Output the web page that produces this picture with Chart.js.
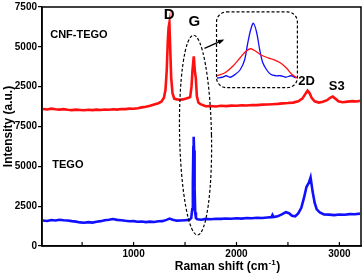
<!DOCTYPE html>
<html>
<head>
<meta charset="utf-8">
<script src="https://cdn.jsdelivr.net/npm/chart.js@4.4.1/dist/chart.umd.min.js"></script>
<style>
  body { margin: 0; background: #fff; }
  #wrap { position: relative; width: 363px; height: 274px; }
  #inset { position: absolute; left: 217px; top: 12px; }
</style>
</head>
<body>
<div id="wrap">
  <canvas id="chartRaman" width="363" height="274"></canvas>
  <canvas id="inset" width="80" height="75"></canvas>
</div>
<script>
// TEGO spectrum (lower trace)
const tegoX = [120, 160, 200, 240, 280, 320, 360, 400, 440, 480, 520, 560, 600, 640, 680, 720, 760, 800, 840, 880,
  920, 960, 1000, 1040, 1080, 1120, 1160, 1200, 1240, 1280, 1320, 1350, 1380, 1420, 1460, 1500, 1540, 1560, 1570, 1576,
  1581, 1584, 1588, 1593, 1599, 1606, 1620, 1660, 1700, 1750, 1800, 1850, 1900, 1950, 2000, 2050, 2100, 2150, 2200, 2250,
  2300, 2340, 2350, 2360, 2400, 2440, 2480, 2510, 2540, 2570, 2600, 2630, 2655, 2680, 2705, 2720, 2740, 2760, 2780, 2810,
  2850, 2900, 2950, 3000, 3050, 3100, 3150, 3200];
const tegoY = [1600, 1570, 1630, 1600, 1650, 1620, 1600, 1560, 1530, 1480, 1460, 1500, 1470, 1520, 1560, 1620, 1650, 1690, 1640, 1620,
  1580, 1550, 1560, 1520, 1540, 1500, 1530, 1510, 1550, 1560, 1640, 1720, 1650, 1590, 1600, 1620, 1640, 1750, 2300, 4000,
  6200, 6850, 6000, 3600, 2100, 1750, 1680, 1650, 1700, 1680, 1710, 1700, 1730, 1710, 1740, 1720, 1760, 1740, 1770, 1760,
  1790, 1810, 1950, 1820, 1860, 1980, 2120, 2060, 1900, 1860, 2050, 2400, 3000, 3700, 4000, 4300, 3400, 2700, 2300, 2100,
  1980, 1970, 1940, 1980, 1960, 2000, 1990, 2030];

// CNF-TEGO spectrum (upper trace, stacked by +7500)
const cnfX = [120, 160, 200, 240, 280, 320, 360, 400, 440, 480, 520, 560, 600, 640, 680, 720, 760, 800, 840, 880,
  920, 960, 1000, 1040, 1080, 1120, 1160, 1200, 1240, 1270, 1295, 1310, 1322, 1332, 1340, 1348, 1355, 1365, 1378, 1395,
  1420, 1450, 1480, 1510, 1535, 1550, 1563, 1572, 1585, 1595, 1605, 1615, 1630, 1650, 1700, 1750, 1800, 1850, 1900, 1950,
  2000, 2050, 2100, 2150, 2200, 2250, 2300, 2350, 2400, 2450, 2500, 2550, 2600, 2640, 2670, 2690, 2710, 2730, 2760, 2800,
  2840, 2880, 2910, 2935, 2960, 2990, 3030, 3080, 3130, 3170, 3200];
const cnfY = [8600, 8570, 8620, 8580, 8560, 8590, 8550, 8530, 8560, 8540, 8520, 8550, 8530, 8560, 8540, 8570, 8550, 8580, 8560, 8600,
  8590, 8620, 8610, 8650, 8700, 8740, 8800, 8880, 8960, 9050, 9300, 9800, 11000, 12800, 13700, 14000, 12600, 10600, 9600, 9250,
  9200, 9180, 9200, 9250, 9300, 9350, 10000, 11000, 11900, 11000, 10500, 9400, 9000, 8900, 8770, 8790, 8760, 8800, 8780, 8810,
  8800, 8830, 8820, 8850, 8840, 8870, 8880, 8900, 8920, 8950, 8970, 9000, 9080, 9250, 9550, 9750, 9600, 9300, 9080, 9000,
  9050, 9150, 9300, 9380, 9250, 9080, 9020, 9060, 9090, 9070, 9120];

// inset: zoom on the G band (normalised)
const insetBlueX = [1500, 1513, 1523, 1533, 1546, 1558, 1569, 1576, 1584, 1591, 1599, 1607, 1614, 1624, 1634, 1647, 1659, 1672, 1685, 1697];
const insetBlueY = [12, 13, 15, 13, 17, 23, 36, 56, 76, 85, 73, 49, 33, 23, 17, 15, 15, 13, 15, 12];
const insetRedX = [1500, 1520, 1538, 1558, 1571, 1584, 1596, 1609, 1622, 1639, 1659, 1674, 1687, 1700];
const insetRedY = [15, 19, 27, 39, 47, 51, 48, 43, 40, 37, 32, 25, 17, 12];

const xTicks = [500, 1000, 1500, 2000, 2500, 3000];
const xLabelled = [1000, 2000, 3000];

const FONT = '"Liberation Sans", Arial, sans-serif';
const pts = (xs, ys) => xs.map((x, i) => ({ x: x, y: ys[i] }));

const decorations = {
  id: 'decorations',
  afterDatasetsDraw(chart) {
    const { ctx, chartArea: a, scales: { x, y } } = chart;
    ctx.save();
    ctx.strokeStyle = '#000';
    ctx.lineWidth = 1.5;
    ctx.strokeRect(a.left, a.top, a.right - a.left, a.bottom - a.top);

    // inward x ticks
    ctx.lineWidth = 1.2;
    xTicks.forEach(v => {
      const px = x.getPixelForValue(v);
      ctx.beginPath();
      ctx.moveTo(px, a.bottom);
      ctx.lineTo(px, a.bottom - 4);
      ctx.stroke();
    });

    // dashed ellipse round the G band
    ctx.setLineDash([3, 2]);
    ctx.lineWidth = 1.2;
    const cx = x.getPixelForValue(1602), cy = y.getPixelForValue(6960);
    const rx = x.getPixelForValue(1757) - cx, ry = cy - y.getPixelForValue(13230);
    ctx.beginPath();
    ctx.ellipse(cx, cy, rx, ry, -0.02, 0, Math.PI * 2);
    ctx.stroke();

    // dashed inset box
    const bx0 = x.getPixelForValue(1806), bx1 = x.getPixelForValue(2592);
    const by0 = y.getPixelForValue(14690), by1 = y.getPixelForValue(9940);
    ctx.beginPath();
    ctx.roundRect(bx0, by0, bx1 - bx0, by1 - by0, 10);
    ctx.stroke();
    ctx.setLineDash([]);

    // arrow
    const ax0 = x.getPixelForValue(1689), ay0 = y.getPixelForValue(12400);
    const ax1 = x.getPixelForValue(1864), ay1 = y.getPixelForValue(12910);
    const ang = Math.atan2(ay1 - ay0, ax1 - ax0);
    ctx.lineWidth = 1.3;
    ctx.beginPath();
    ctx.moveTo(ax0, ay0);
    ctx.lineTo(ax1, ay1);
    ctx.stroke();
    ctx.fillStyle = '#000';
    ctx.beginPath();
    ctx.moveTo(ax1 + 2 * Math.cos(ang), ay1 + 2 * Math.sin(ang));
    ctx.lineTo(ax1 - 5 * Math.cos(ang - 0.5), ay1 - 5 * Math.sin(ang - 0.5));
    ctx.lineTo(ax1 - 5 * Math.cos(ang + 0.5), ay1 - 5 * Math.sin(ang + 0.5));
    ctx.closePath();
    ctx.fill();

    // text labels
    ctx.textBaseline = 'middle';
    ctx.textAlign = 'center';
    ctx.font = 'bold 15px ' + FONT;
    ctx.fillText('D', x.getPixelForValue(1345), y.getPixelForValue(14500));
    ctx.fillText('G', x.getPixelForValue(1590), y.getPixelForValue(14050));
    ctx.font = 'bold 13px ' + FONT;
    ctx.fillText('2D', x.getPixelForValue(2680), y.getPixelForValue(10320));
    ctx.fillText('S3', x.getPixelForValue(2975), y.getPixelForValue(10000));
    ctx.textAlign = 'left';
    ctx.font = 'bold 11px ' + FONT;
    ctx.fillText('CNF-TEGO', x.getPixelForValue(190), y.getPixelForValue(13230));
    ctx.fillText('TEGO', x.getPixelForValue(210), y.getPixelForValue(5060));

    // x axis title with superscript
    ctx.textBaseline = 'alphabetic';
    const tx = x.getPixelForValue(1400), ty = 270;
    ctx.font = 'bold 12px ' + FONT;
    const t1 = 'Raman shift (cm';
    ctx.fillText(t1, tx, ty);
    let w = ctx.measureText(t1).width;
    ctx.font = 'bold 8px ' + FONT;
    ctx.fillText('-1', tx + w + 0.5, ty - 5);
    w += ctx.measureText('-1').width + 1;
    ctx.font = 'bold 12px ' + FONT;
    ctx.fillText(')', tx + w, ty);
    ctx.restore();
  }
};

new Chart(document.getElementById('chartRaman').getContext('2d'), {
  type: 'line',
  data: {
    datasets: [
      { label: 'TEGO', data: pts(tegoX, tegoY), borderColor: '#1010ff', borderWidth: 2.6, pointRadius: 0, tension: 0 },
      { label: 'CNF-TEGO', data: pts(cnfX, cnfY), borderColor: '#ff1010', borderWidth: 2.6, pointRadius: 0, tension: 0 }
    ]
  },
  options: {
    responsive: false,
    animation: false,
    layout: { padding: { top: 7, right: 2, left: 0, bottom: 0 } },
    plugins: { legend: { display: false }, tooltip: { enabled: false } },
    scales: {
      x: {
        type: 'linear',
        min: 110,
        max: 3210,
        afterBuildTicks: s => { s.ticks = xTicks.map(v => ({ value: v })); },
        afterFit: s => { s.height = 28; },
        grid: { display: false, drawTicks: false },
        border: { color: '#000', width: 1.5 },
        ticks: {
          padding: 2,
          color: '#000',
          font: { family: FONT, size: 10, weight: 'bold' },
          maxRotation: 0,
          autoSkip: false,
          callback: v => xLabelled.includes(v) ? String(v) : ''
        }
      },
      y: {
        min: 0,
        max: 15000,
        afterFit: s => { s.width = 42; },
        grid: { drawOnChartArea: false, tickLength: 4, color: '#000', lineWidth: 1.2 },
        border: { color: '#000', width: 1.5 },
        ticks: {
          stepSize: 2500,
          padding: 1,
          color: '#000',
          font: { family: FONT, size: 10, weight: 'bold' },
          callback: v => String(v > 7500 ? v - 7500 : v)
        },
        title: {
          display: true,
          text: 'Intensity (a.u.)',
          color: '#000',
          font: { family: FONT, size: 12, weight: 'bold' },
          padding: { top: 1, bottom: 0 }
        }
      }
    }
  },
  plugins: [decorations]
});

new Chart(document.getElementById('inset').getContext('2d'), {
  type: 'line',
  data: {
    datasets: [
      { data: pts(insetRedX, insetRedY), borderColor: '#ff1010', borderWidth: 1.3, pointRadius: 0, tension: 0.3 },
      { data: pts(insetBlueX, insetBlueY), borderColor: '#1010ff', borderWidth: 1.3, pointRadius: 0, tension: 0.3 }
    ]
  },
  options: {
    responsive: false,
    animation: false,
    layout: { padding: 0 },
    plugins: { legend: { display: false }, tooltip: { enabled: false } },
    scales: {
      x: { type: 'linear', min: 1500, max: 1700, display: false },
      y: { min: 0, max: 100, display: false }
    }
  }
});
</script>
</body>
</html>
